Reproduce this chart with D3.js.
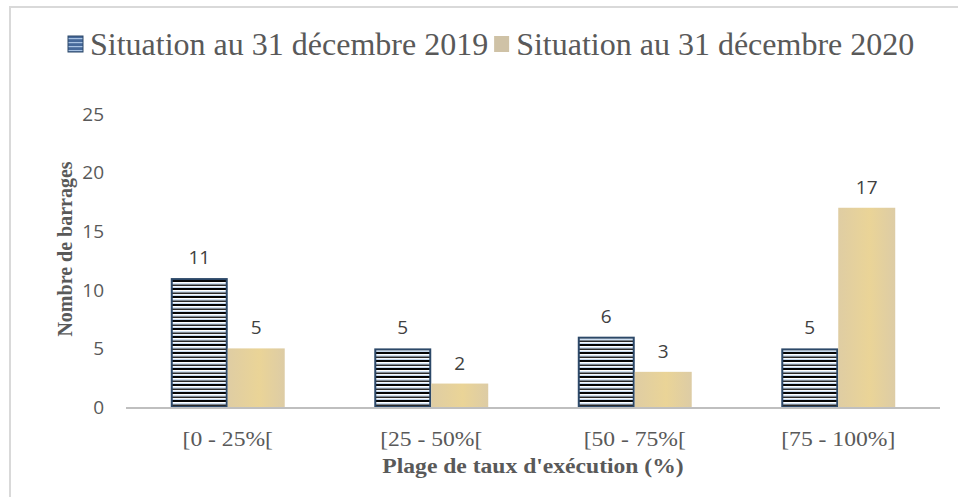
<html>
<head>
  <meta charset="utf-8" />
  <script src="https://cdnjs.cloudflare.com/ajax/libs/d3/7.8.5/d3.min.js"></script>
  <style>
    body { margin: 0; background: #fff; }
    svg { display: block; }
  </style>
</head>
<body>
  <svg></svg>
  <script>
  // chart values
  var categories = ["[0 - 25%[", "[25 - 50%[", "[50 - 75%[", "[75 - 100%]"]
  var seriesNames = ["Situation au 31 décembre 2019", "Situation au 31 décembre 2020"]
  var values2019 = [11, 5, 6, 5]
  var values2020 = [5, 2, 3, 17]
  var yTicks = [0, 5, 10, 15, 20, 25]

  var serif = "'Liberation Serif', 'Times New Roman', serif"
  var svg = d3.select("svg").attr("width", 958).attr("height", 497)

  var defs = svg.append("defs")

  // striped fill for 2019 bars
  var stripes = defs.append("pattern")
      .attr("id", "stripes")
      .attr("patternUnits", "userSpaceOnUse")
      .attr("width", 10).attr("height", 8)
  var stripeRows = [["#050505", 0, 2], ["#ffffff", 2, 1.5], ["#9fc0e4", 3.5, 1], ["#2a2a2a", 4.5, 1.5], ["#f6f9fd", 6, 1], ["#c5d9ef", 7, 1]]
  stripeRows.forEach(r => {
    stripes.append("rect").attr("x", 0).attr("y", r[1]).attr("width", 10).attr("height", r[2]).attr("fill", r[0])
  })

  var legendStripes = defs.append("pattern")
      .attr("id", "legendStripes")
      .attr("patternUnits", "userSpaceOnUse")
      .attr("width", 10).attr("height", 4)
  legendStripes.append("rect").attr("width", 10).attr("height", 4).attr("fill", "#46699a")
  legendStripes.append("rect").attr("y", 2).attr("width", 10).attr("height", 1.2).attr("fill", "#a8c2e2")

  // tan texture for 2020 bars
  var tan = defs.append("linearGradient").attr("id", "tan")
  tan.append("stop").attr("offset", "0%").attr("stop-color", "#dfcda3")
  tan.append("stop").attr("offset", "55%").attr("stop-color", "#ead497")
  tan.append("stop").attr("offset", "100%").attr("stop-color", "#ddcca5")

  // outer frame (runs off the right and bottom edges)
  svg.append("rect")
    .attr("x", 10).attr("y", 7)
    .attr("width", 980).attr("height", 520)
    .attr("fill", "none")
    .attr("stroke", "#d9d9d9")
    .attr("stroke-width", 2)

  var xScale = d3.scaleBand().domain(categories).range([126, 940]).paddingInner(0.44).paddingOuter(0.22)
  var xSub = d3.scaleBand().domain(seriesNames).range([0, xScale.bandwidth()])
  var yScale = d3.scaleLinear().domain([0, 25]).range([407, 114])

  var rows = categories.map((c, i) => ({ cat: c, v: [values2019[i], values2020[i]] }))

  // y tick labels
  svg.append("g").selectAll("text")
    .data(yTicks)
    .enter().append("text")
      .attr("x", 104)
      .attr("y", d => yScale(d))
      .attr("dy", "0.36em")
      .attr("text-anchor", "end")
      .attr("font-family", "Open Sans")
      .attr("font-size", 19)
      .attr("fill", "#595959")
      .text(d => d)

  // bars
  var groups = svg.append("g").selectAll("g")
    .data(rows)
    .enter().append("g")
      .attr("transform", d => "translate(" + xScale(d.cat) + ",0)")

  groups.selectAll("rect")
    .data(d => d.v.map((v, i) => ({ s: seriesNames[i], i: i, v: v })))
    .enter().append("rect")
      .attr("x", d => xSub(d.s) + (d.i === 0 ? 1 : 0))
      .attr("y", d => yScale(d.v) + (d.i === 0 ? 1 : 0))
      .attr("width", d => xSub.bandwidth() - (d.i === 0 ? 2 : 0))
      .attr("height", d => yScale(0) - yScale(d.v) - (d.i === 0 ? 1 : 0))
      .attr("fill", d => d.i === 0 ? "url(#stripes)" : "url(#tan)")
      .attr("stroke", d => d.i === 0 ? "#2c4868" : "none")
      .attr("stroke-width", 2)

  groups.selectAll("text")
    .data(d => d.v.map((v, i) => ({ s: seriesNames[i], v: v })))
    .enter().append("text")
      .attr("x", d => xSub(d.s) + xSub.bandwidth() / 2)
      .attr("y", d => yScale(d.v) - 14)
      .attr("text-anchor", "middle")
      .attr("font-family", "Open Sans")
      .attr("font-size", 19)
      .attr("fill", "#404040")
      .text(d => d.v)

  // baseline
  svg.append("line")
    .attr("x1", 126).attr("x2", 940)
    .attr("y1", yScale(0) + 1).attr("y2", yScale(0) + 1)
    .attr("stroke", "#bfbfbf")
    .attr("stroke-width", 2)

  // category labels
  svg.append("g").selectAll("text")
    .data(categories)
    .enter().append("text")
      .attr("transform", d => "translate(" + (xScale(d) + xScale.bandwidth() / 2) + ",446) scale(1.18,1)")
      .attr("text-anchor", "middle")
      .attr("font-family", serif)
      .attr("font-size", 20)
      .attr("fill", "#595959")
      .text(d => d)

  // axis titles
  svg.append("text")
    .attr("transform", "translate(533,473) scale(1.18,1)")
    .attr("text-anchor", "middle")
    .attr("font-family", serif)
    .attr("font-weight", "bold")
    .attr("font-size", 20)
    .attr("fill", "#595959")
    .text("Plage de taux d'exécution (%)")

  svg.append("text")
    .attr("transform", "translate(72,249) rotate(-90)")
    .attr("text-anchor", "middle")
    .attr("font-family", serif)
    .attr("font-weight", "bold")
    .attr("font-size", 20)
    .attr("fill", "#595959")
    .text("Nombre de barrages")

  // legend
  var legend = svg.append("g")
  var lx = 68
  seriesNames.forEach((name, i) => {
    legend.append("rect")
      .attr("x", lx).attr("y", 36)
      .attr("width", 15).attr("height", 16)
      .attr("fill", i === 0 ? "url(#legendStripes)" : "#cfc2a6")
      .attr("stroke", i === 0 ? "#2c4868" : "none")
      .attr("stroke-width", 1)
    var t = legend.append("text")
      .attr("x", lx + 22).attr("y", 55)
      .attr("font-family", serif)
      .attr("font-size", 32)
      .attr("fill", "#595959")
      .text(name)
    lx = lx + 22 + t.node().getComputedTextLength() + 6
  })
  </script>
</body>
</html>
